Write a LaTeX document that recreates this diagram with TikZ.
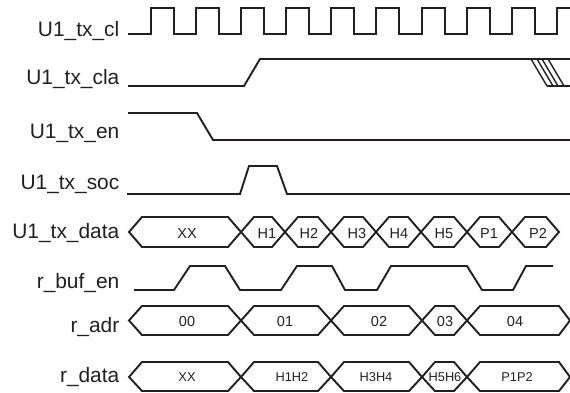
\documentclass[tikz,border=0pt]{standalone}
\usepackage{fontspec}
\setmainfont{Liberation Sans}
\usepackage{xcolor}
\definecolor{inkblack}{HTML}{231F20}
\tikzset{
  wave/.style={color=inkblack, line width=1.9pt, line join=miter},
  hatchline/.style={color=inkblack, line width=1.4pt},
  siglabel/.style={anchor=base east, inner sep=0pt, text=inkblack, font=\fontsize{20.9}{24}\selectfont},
  buslabel/.style={inner sep=0pt, text=inkblack, font=\fontsize{14.5}{16}\selectfont},
  smalllabel/.style={inner sep=0pt, text=inkblack, font=\fontsize{12.8}{15}\selectfont},
}
\begin{document}
\begin{tikzpicture}[x=1pt,y=-1pt]
\useasboundingbox (0,0) rectangle (570,393);
% signal names
\node[siglabel] (clname) at (119.5,37) {U1\_tx\_cl};
\node[siglabel] (claname) at (119.5,85) {U1\_tx\_cla};
\node[siglabel] (enname) at (119.5,139) {U1\_tx\_en};
\node[siglabel] (socname) at (119.5,189) {U1\_tx\_soc};
\node[siglabel] (dataname) at (119.5,238) {U1\_tx\_data};
\node[siglabel] (bufname) at (119.5,288) {r\_buf\_en};
\node[siglabel] (adrname) at (119.5,332) {r\_adr};
\node[siglabel] (rdataname) at (119.5,382) {r\_data};
% clock
\draw[wave] (128,34) -- (151,34) -- (151,8) -- (174,8) -- (174,34) -- (196,34) -- (196,8) -- (219,8) -- (219,34)
 -- (241,34) -- (241,8) -- (264,8) -- (264,34) -- (286,34) -- (286,8) -- (309,8) -- (309,34)
 -- (331,34) -- (331,8) -- (354,8) -- (354,34) -- (376,34) -- (376,8) -- (399,8) -- (399,34)
 -- (422,34) -- (422,8) -- (445,8) -- (445,34) -- (467,34) -- (467,8) -- (490,8) -- (490,34)
 -- (512,34) -- (512,8) -- (535,8) -- (535,34) -- (557,34) -- (557,8) -- (570,8);
% single lines
\draw[wave] (128,86) -- (244,86) -- (260,59) -- (570,59);
\draw[wave] (547,86) -- (570,86);
\draw[hatchline] (531,59) -- (547,86);
\draw[hatchline] (537,59) -- (553,86);
\draw[hatchline] (542,59) -- (558,86);
\draw[hatchline] (548,59) -- (564,86);
\draw[wave] (128,113) -- (197,113) -- (213,140) -- (570,140);
\draw[wave] (127,194) -- (240,194) -- (249,166) -- (277,166) -- (287,194) -- (570,194);
\draw[wave] (134,290) -- (174,290) -- (190,266) -- (225,266) -- (240,290) -- (281,290) -- (297,266) -- (332,266)
 -- (345,290) -- (377,290) -- (391,266) -- (467,266) -- (482,290) -- (513,290) -- (526,266) -- (553,266);
% U1_tx_data
\draw[wave] (129,232) -- (142,217) -- (228,217) -- (241,232) -- (228,247) -- (142,247) -- cycle;
\draw[wave] (241,232) -- (254,217) -- (272,217) -- (285,232) -- (272,247) -- (254,247) -- cycle;
\draw[wave] (285,232) -- (298,217) -- (318,217) -- (331,232) -- (318,247) -- (298,247) -- cycle;
\draw[wave] (331,232) -- (344,217) -- (363,217) -- (376,232) -- (363,247) -- (344,247) -- cycle;
\draw[wave] (376,232) -- (389,217) -- (408,217) -- (421,232) -- (408,247) -- (389,247) -- cycle;
\draw[wave] (421,232) -- (434,217) -- (454,217) -- (467,232) -- (454,247) -- (434,247) -- cycle;
\draw[wave] (467,232) -- (480,217) -- (499,217) -- (512,232) -- (499,247) -- (480,247) -- cycle;
\draw[wave] (512,232) -- (525,217) -- (546,217) -- (559,232) -- (546,247) -- (525,247) -- cycle;
\node[buslabel] (dxx) at (187,233.5) {XX};
\node[buslabel] (h1) at (267,233.5) {H1};
\node[buslabel] (h2) at (309,233.5) {H2};
\node[buslabel] (h3) at (357,233.5) {H3};
\node[buslabel] (h4) at (399,233.5) {H4};
\node[buslabel] (h5) at (444,233.5) {H5};
\node[buslabel] (p1) at (489,233.5) {P1};
\node[buslabel] (p2) at (538,233.5) {P2};
% r_adr
\draw[wave] (129,320.5) -- (142,306) -- (228,306) -- (241,320.5) -- (228,335) -- (142,335) -- cycle;
\draw[wave] (241,320.5) -- (254,306) -- (318,306) -- (331,320.5) -- (318,335) -- (254,335) -- cycle;
\draw[wave] (331,320.5) -- (344,306) -- (409,306) -- (422,320.5) -- (409,335) -- (344,335) -- cycle;
\draw[wave] (422,320.5) -- (435,306) -- (454,306) -- (467,320.5) -- (454,335) -- (435,335) -- cycle;
\draw[wave] (467,320.5) -- (480,306) -- (559,306) -- (570,320.5) -- (559,335) -- (480,335) -- cycle;
\node[buslabel] (a0) at (187,321.5) {00};
\node[buslabel] (a1) at (285,321.5) {01};
\node[buslabel] (a2) at (379,321.5) {02};
\node[buslabel] (a3) at (445,321.5) {03};
\node[buslabel] (a4) at (515,321.5) {04};
% r_data
\draw[wave] (129,377) -- (142,362) -- (228,362) -- (241,377) -- (228,391) -- (142,391) -- cycle;
\draw[wave] (241,377) -- (254,362) -- (318,362) -- (331,377) -- (318,391) -- (254,391) -- cycle;
\draw[wave] (331,377) -- (344,362) -- (409,362) -- (422,377) -- (409,391) -- (344,391) -- cycle;
\draw[wave] (422,377) -- (435,362) -- (454,362) -- (467,377) -- (454,391) -- (435,391) -- cycle;
\draw[wave] (467,377) -- (480,362) -- (559,362) -- (570,377) -- (559,391) -- (480,391) -- cycle;
\node[smalllabel] (rxx) at (187,377.5) {XX};
\node[smalllabel] (rh12) at (292,377.5) {H1H2};
\node[smalllabel] (rh34) at (376,377.5) {H3H4};
\node[smalllabel] (rh56) at (445,377.5) {H5H6};
\node[smalllabel] (rp12) at (517,377.5) {P1P2};
\end{tikzpicture}
\end{document}
